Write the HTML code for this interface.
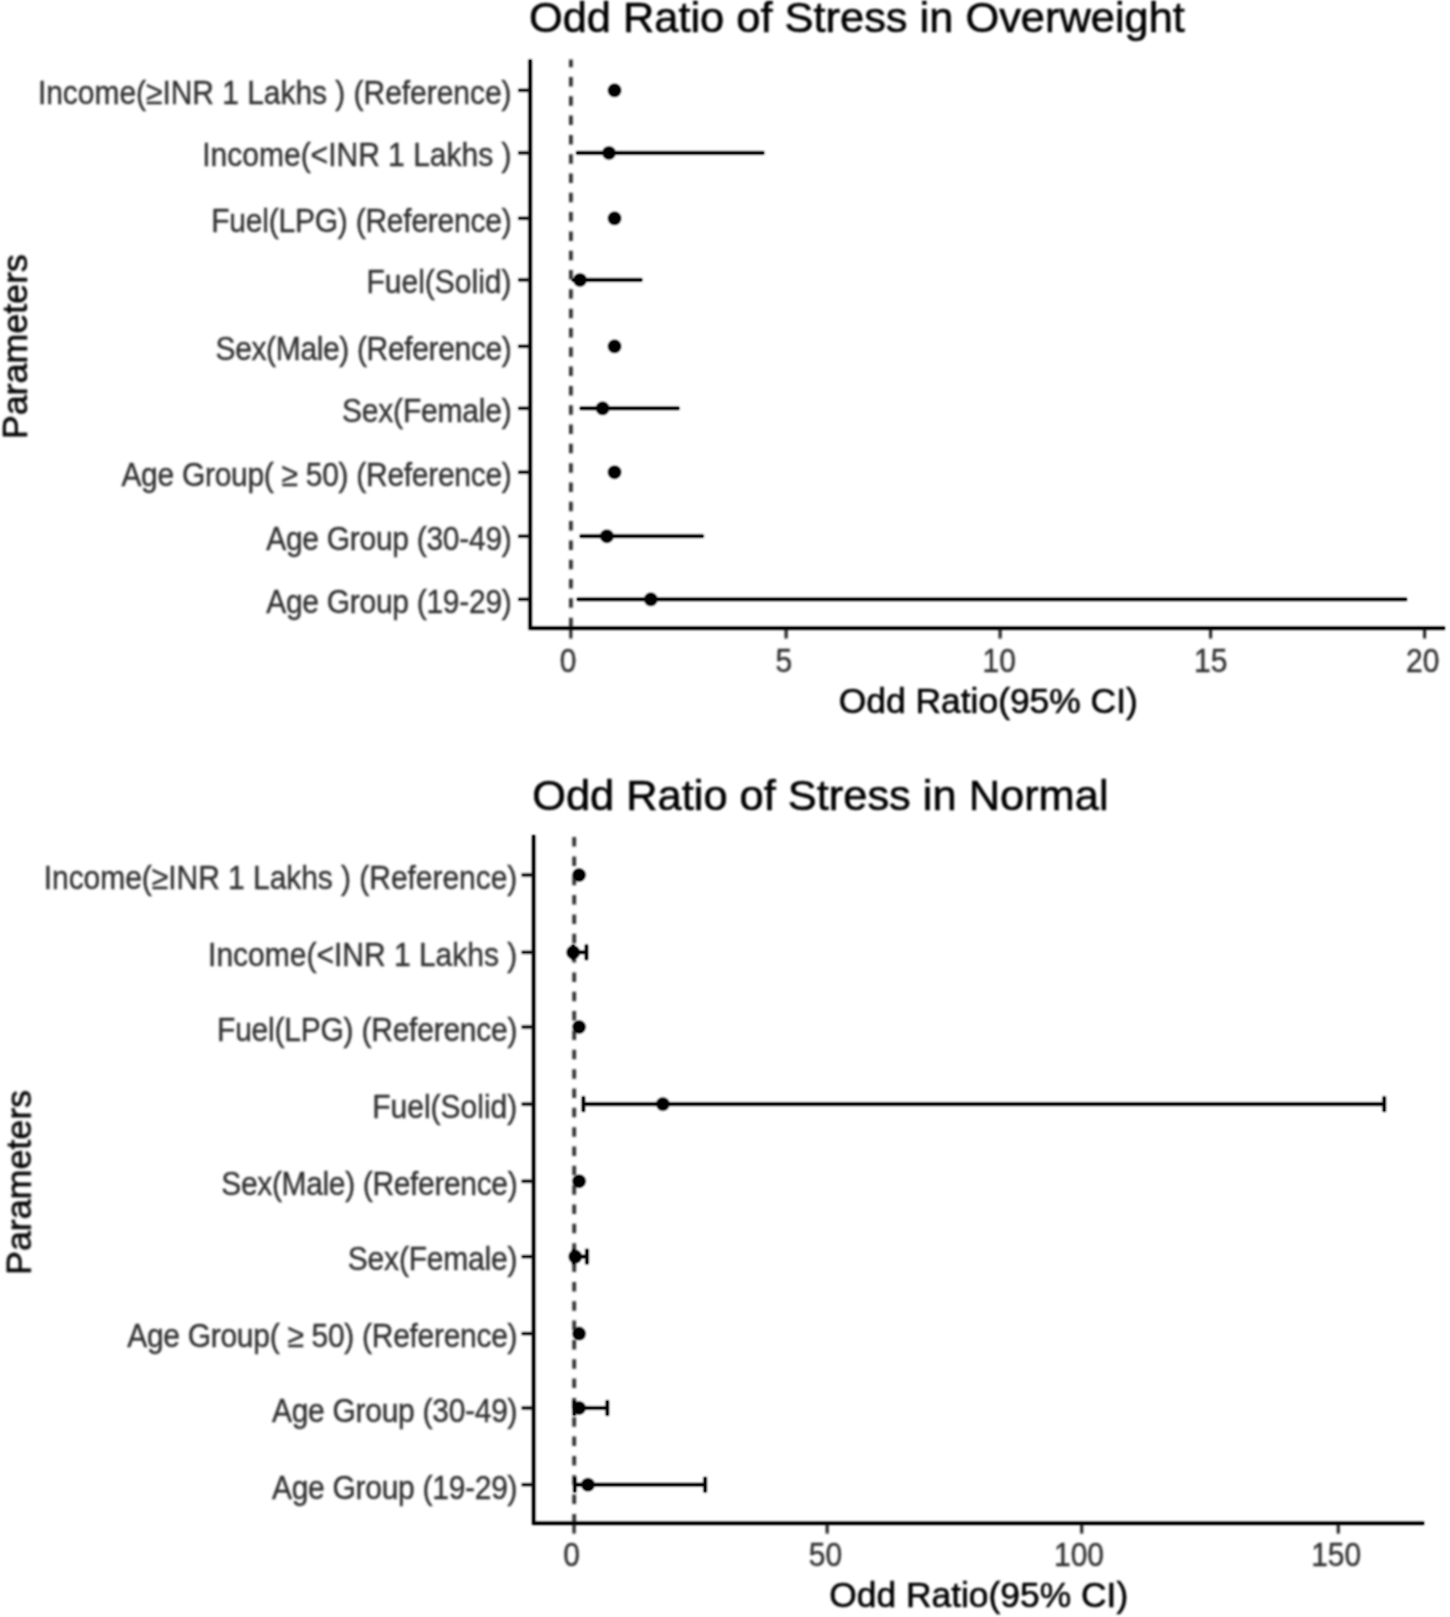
<!DOCTYPE html>
<html lang="en">
<head>
<meta charset="utf-8">
<title>Odd Ratio of Stress – forest plots</title>
<style>
html,body{margin:0;padding:0;background:#fff;}
body{width:1450px;height:1617px;overflow:hidden;font-family:'Liberation Sans', Arial, Helvetica, sans-serif;}
svg{display:block;}
svg text{font-family:'Liberation Sans', Arial, Helvetica, sans-serif;}
.title{font-size:43.4px;fill:#000;stroke:#000;stroke-width:0.6px;}
.atitle{font-size:35.4px;fill:#000;stroke:#000;stroke-width:0.6px;}
.ylab{font-size:30px;fill:#303030;stroke:#303030;stroke-width:0.35px;}
.xlab{font-size:30px;fill:#303030;stroke:#303030;stroke-width:0.35px;}
.axis{fill:none;stroke:#000;stroke-width:3.4;stroke-linecap:butt;stroke-linejoin:miter;}
.tick{stroke:#1a1a1a;stroke-width:3.0;}
.err{stroke:#000;stroke-width:3.2;}
.dash{stroke:#303030;stroke-width:3.8;}
.pt{fill:#000;}
.caxis{fill:none;stroke:#000;stroke-width:1.7;}
.cerr{stroke:#000;stroke-width:1.5;}
.ctick{stroke:#111;stroke-width:1.2;}
.ytitle{font-size:35.8px;}
</style>
</head>
<body>
<svg width="1450" height="1617" viewBox="0 0 1450 1617">
<defs>
<filter id="soft" x="0" y="0" width="1450" height="1617" filterUnits="userSpaceOnUse"><feGaussianBlur stdDeviation="0.8"/></filter>
</defs>
<rect x="0" y="0" width="1450" height="1617" fill="#ffffff"/>
<g filter="url(#soft)">
<g class="chart">
<text class="title" x="528.9" y="32.4">Odd Ratio of Stress in Overweight</text>
<text class="atitle ytitle" text-anchor="middle" transform="translate(27 346.6) rotate(-90)">Parameters</text>
<text class="atitle" text-anchor="middle" x="988.3" y="712.6">Odd Ratio(95% CI)</text>
<line class="dash" stroke-dasharray="9.5 9.81" stroke-dashoffset="1.86" x1="570.9" y1="59.5" x2="570.9" y2="628.2"/>
<text class="ylab" text-anchor="end" letter-spacing="-0.04" transform="translate(511.5 103.7) scale(1 1.11)">Income(≥INR 1 Lakhs ) (Reference)</text>
<line class="tick" x1="518.2" y1="90.3" x2="530.2" y2="90.3"/>
<text class="ylab" text-anchor="end" transform="translate(511.5 166.3) scale(1 1.11)">Income(&lt;INR 1 Lakhs )</text>
<line class="tick" x1="518.2" y1="152.9" x2="530.2" y2="152.9"/>
<text class="ylab" text-anchor="end" letter-spacing="-0.23" transform="translate(511.5 231.7) scale(1 1.11)">Fuel(LPG) (Reference)</text>
<line class="tick" x1="518.2" y1="218.3" x2="530.2" y2="218.3"/>
<text class="ylab" text-anchor="end" transform="translate(511.5 293.3) scale(1 1.11)">Fuel(Solid)</text>
<line class="tick" x1="518.2" y1="279.9" x2="530.2" y2="279.9"/>
<text class="ylab" text-anchor="end" letter-spacing="-0.35" transform="translate(511.5 359.7) scale(1 1.11)">Sex(Male) (Reference)</text>
<line class="tick" x1="518.2" y1="346.3" x2="530.2" y2="346.3"/>
<text class="ylab" text-anchor="end" letter-spacing="-0.2" transform="translate(511.5 421.7) scale(1 1.11)">Sex(Female)</text>
<line class="tick" x1="518.2" y1="408.3" x2="530.2" y2="408.3"/>
<text class="ylab" text-anchor="end" letter-spacing="-0.29" transform="translate(511.5 485.6) scale(1 1.11)">Age Group( ≥ 50) (Reference)</text>
<line class="tick" x1="518.2" y1="472.2" x2="530.2" y2="472.2"/>
<text class="ylab" text-anchor="end" letter-spacing="-0.28" transform="translate(511.5 549.6) scale(1 1.11)">Age Group (30-49)</text>
<line class="tick" x1="518.2" y1="536.2" x2="530.2" y2="536.2"/>
<text class="ylab" text-anchor="end" letter-spacing="-0.28" transform="translate(511.5 612.7) scale(1 1.11)">Age Group (19-29)</text>
<line class="tick" x1="518.2" y1="599.3" x2="530.2" y2="599.3"/>
<line class="tick" x1="570.8" y1="628.2" x2="570.8" y2="638.5"/>
<text class="xlab" text-anchor="middle" transform="translate(568.2 671.7) scale(1 1.11)">0</text>
<line class="tick" x1="786.1" y1="628.2" x2="786.1" y2="638.5"/>
<text class="xlab" text-anchor="middle" transform="translate(783.85 671.7) scale(1 1.11)">5</text>
<line class="tick" x1="1000.1" y1="628.2" x2="1000.1" y2="638.5"/>
<text class="xlab" text-anchor="middle" transform="translate(999.3 671.7) scale(1 1.11)">10</text>
<line class="tick" x1="1210.6" y1="628.2" x2="1210.6" y2="638.5"/>
<text class="xlab" text-anchor="middle" transform="translate(1210.7 671.7) scale(1 1.11)">15</text>
<line class="tick" x1="1424.6" y1="628.2" x2="1424.6" y2="638.5"/>
<text class="xlab" text-anchor="middle" transform="translate(1422.8 671.7) scale(1 1.11)">20</text>
<circle class="pt" cx="614.55" cy="90.3" r="6.5"/>
<line class="err" x1="576.16" y1="152.9" x2="764.25" y2="152.9"/>
<circle class="pt" cx="609.01" cy="152.9" r="6.5"/>
<circle class="pt" cx="614.55" cy="218.3" r="6.5"/>
<line class="err" x1="571.9" y1="279.9" x2="642.27" y2="279.9"/>
<circle class="pt" cx="580" cy="279.9" r="6.5"/>
<circle class="pt" cx="614.55" cy="346.3" r="6.5"/>
<line class="err" x1="579.79" y1="408.3" x2="679.38" y2="408.3"/>
<circle class="pt" cx="602.61" cy="408.3" r="6.5"/>
<circle class="pt" cx="614.55" cy="472.2" r="6.5"/>
<line class="err" x1="579.79" y1="536.2" x2="703.69" y2="536.2"/>
<circle class="pt" cx="606.87" cy="536.2" r="6.5"/>
<line class="err" x1="576.8" y1="599.3" x2="1406.99" y2="599.3"/>
<circle class="pt" cx="650.8" cy="599.3" r="6.5"/>
<polyline class="axis" points="530.2,59.5 530.2,628.2 1445,628.2"/>
</g>
<g class="chart">
<text class="title" x="532.2" y="810.2">Odd Ratio of Stress in Normal</text>
<text class="atitle ytitle" text-anchor="middle" transform="translate(30.8 1182.4) rotate(-90)">Parameters</text>
<text class="atitle" text-anchor="middle" x="978.7" y="1606.7">Odd Ratio(95% CI)</text>
<line class="dash" stroke-dasharray="9.5 9.84" stroke-dashoffset="17.28" x1="574.2" y1="835" x2="574.2" y2="1523.3"/>
<text class="ylab" text-anchor="end" letter-spacing="-0.04" transform="translate(517.3 888.8) scale(1 1.11)">Income(≥INR 1 Lakhs ) (Reference)</text>
<line class="tick" x1="521.6" y1="875" x2="533.6" y2="875"/>
<text class="ylab" text-anchor="end" transform="translate(517.3 966.1) scale(1 1.11)">Income(&lt;INR 1 Lakhs )</text>
<line class="tick" x1="521.6" y1="952.3" x2="533.6" y2="952.3"/>
<text class="ylab" text-anchor="end" letter-spacing="-0.23" transform="translate(517.3 1040.8) scale(1 1.11)">Fuel(LPG) (Reference)</text>
<line class="tick" x1="521.6" y1="1027" x2="533.6" y2="1027"/>
<text class="ylab" text-anchor="end" transform="translate(517.3 1117.9) scale(1 1.11)">Fuel(Solid)</text>
<line class="tick" x1="521.6" y1="1104.1" x2="533.6" y2="1104.1"/>
<text class="ylab" text-anchor="end" letter-spacing="-0.35" transform="translate(517.3 1195) scale(1 1.11)">Sex(Male) (Reference)</text>
<line class="tick" x1="521.6" y1="1181.2" x2="533.6" y2="1181.2"/>
<text class="ylab" text-anchor="end" letter-spacing="-0.2" transform="translate(517.3 1270.4) scale(1 1.11)">Sex(Female)</text>
<line class="tick" x1="521.6" y1="1256.6" x2="533.6" y2="1256.6"/>
<text class="ylab" text-anchor="end" letter-spacing="-0.29" transform="translate(517.3 1347.4) scale(1 1.11)">Age Group( ≥ 50) (Reference)</text>
<line class="tick" x1="521.6" y1="1333.6" x2="533.6" y2="1333.6"/>
<text class="ylab" text-anchor="end" letter-spacing="-0.28" transform="translate(517.3 1421.8) scale(1 1.11)">Age Group (30-49)</text>
<line class="tick" x1="521.6" y1="1408" x2="533.6" y2="1408"/>
<text class="ylab" text-anchor="end" letter-spacing="-0.28" transform="translate(517.3 1498.5) scale(1 1.11)">Age Group (19-29)</text>
<line class="tick" x1="521.6" y1="1484.7" x2="533.6" y2="1484.7"/>
<line class="tick" x1="574.05" y1="1523.3" x2="574.05" y2="1533.6"/>
<text class="xlab" text-anchor="middle" transform="translate(571.7 1565.8) scale(1 1.11)">0</text>
<line class="tick" x1="827.2" y1="1523.3" x2="827.2" y2="1533.6"/>
<text class="xlab" text-anchor="middle" transform="translate(825.5 1565.8) scale(1 1.11)">50</text>
<line class="tick" x1="1081.7" y1="1523.3" x2="1081.7" y2="1533.6"/>
<text class="xlab" text-anchor="middle" transform="translate(1079 1565.8) scale(1 1.11)">100</text>
<line class="tick" x1="1338.3" y1="1523.3" x2="1338.3" y2="1533.6"/>
<text class="xlab" text-anchor="middle" transform="translate(1336.2 1565.8) scale(1 1.11)">150</text>
<circle class="pt" cx="579.06" cy="875" r="6.5"/>
<line class="err" x1="573.2" y1="952.3" x2="586.45" y2="952.3"/>
<line class="err" x1="573.2" y1="944.55" x2="573.2" y2="960.05"/>
<line class="err" x1="586.45" y1="944.55" x2="586.45" y2="960.05"/>
<circle class="pt" cx="573.2" cy="952.3" r="6.5"/>
<circle class="pt" cx="579.06" cy="1027" r="6.5"/>
<line class="err" x1="583.39" y1="1104.1" x2="1384.24" y2="1104.1"/>
<line class="err" x1="583.39" y1="1096.35" x2="583.39" y2="1111.85"/>
<line class="err" x1="1384.24" y1="1096.35" x2="1384.24" y2="1111.85"/>
<circle class="pt" cx="662.86" cy="1104.1" r="6.5"/>
<circle class="pt" cx="579.06" cy="1181.2" r="6.5"/>
<line class="err" x1="573.71" y1="1256.6" x2="586.96" y2="1256.6"/>
<line class="err" x1="573.71" y1="1248.85" x2="573.71" y2="1264.35"/>
<line class="err" x1="586.96" y1="1248.85" x2="586.96" y2="1264.35"/>
<circle class="pt" cx="575.24" cy="1256.6" r="6.5"/>
<circle class="pt" cx="579.06" cy="1333.6" r="6.5"/>
<line class="err" x1="574.22" y1="1408" x2="607.33" y2="1408"/>
<line class="err" x1="574.22" y1="1400.25" x2="574.22" y2="1415.75"/>
<line class="err" x1="607.33" y1="1400.25" x2="607.33" y2="1415.75"/>
<circle class="pt" cx="579.06" cy="1408" r="6.5"/>
<line class="err" x1="574.73" y1="1484.7" x2="705.15" y2="1484.7"/>
<line class="err" x1="574.73" y1="1476.95" x2="574.73" y2="1492.45"/>
<line class="err" x1="705.15" y1="1476.95" x2="705.15" y2="1492.45"/>
<circle class="pt" cx="587.97" cy="1484.7" r="6.5"/>
<polyline class="axis" points="533.6,835 533.6,1523.3 1424.2,1523.3"/>
</g>
</g>
<g class="cores">
<line class="ctick" x1="519" y1="90.3" x2="530.2" y2="90.3"/>
<line class="ctick" x1="519" y1="152.9" x2="530.2" y2="152.9"/>
<line class="ctick" x1="519" y1="218.3" x2="530.2" y2="218.3"/>
<line class="ctick" x1="519" y1="279.9" x2="530.2" y2="279.9"/>
<line class="ctick" x1="519" y1="346.3" x2="530.2" y2="346.3"/>
<line class="ctick" x1="519" y1="408.3" x2="530.2" y2="408.3"/>
<line class="ctick" x1="519" y1="472.2" x2="530.2" y2="472.2"/>
<line class="ctick" x1="519" y1="536.2" x2="530.2" y2="536.2"/>
<line class="ctick" x1="519" y1="599.3" x2="530.2" y2="599.3"/>
<circle class="pt" cx="614.55" cy="90.3" r="5.2"/>
<line class="cerr" x1="576.76" y1="152.9" x2="763.65" y2="152.9"/>
<circle class="pt" cx="609.01" cy="152.9" r="5.2"/>
<circle class="pt" cx="614.55" cy="218.3" r="5.2"/>
<line class="cerr" x1="572.5" y1="279.9" x2="641.67" y2="279.9"/>
<circle class="pt" cx="580" cy="279.9" r="5.2"/>
<circle class="pt" cx="614.55" cy="346.3" r="5.2"/>
<line class="cerr" x1="580.39" y1="408.3" x2="678.78" y2="408.3"/>
<circle class="pt" cx="602.61" cy="408.3" r="5.2"/>
<circle class="pt" cx="614.55" cy="472.2" r="5.2"/>
<line class="cerr" x1="580.39" y1="536.2" x2="703.09" y2="536.2"/>
<circle class="pt" cx="606.87" cy="536.2" r="5.2"/>
<line class="cerr" x1="577.4" y1="599.3" x2="1406.39" y2="599.3"/>
<circle class="pt" cx="650.8" cy="599.3" r="5.2"/>
<polyline class="caxis" points="530.2,60.1 530.2,628.2 1444.4,628.2"/>
<line class="ctick" x1="522.4" y1="875" x2="533.6" y2="875"/>
<line class="ctick" x1="522.4" y1="952.3" x2="533.6" y2="952.3"/>
<line class="ctick" x1="522.4" y1="1027" x2="533.6" y2="1027"/>
<line class="ctick" x1="522.4" y1="1104.1" x2="533.6" y2="1104.1"/>
<line class="ctick" x1="522.4" y1="1181.2" x2="533.6" y2="1181.2"/>
<line class="ctick" x1="522.4" y1="1256.6" x2="533.6" y2="1256.6"/>
<line class="ctick" x1="522.4" y1="1333.6" x2="533.6" y2="1333.6"/>
<line class="ctick" x1="522.4" y1="1408" x2="533.6" y2="1408"/>
<line class="ctick" x1="522.4" y1="1484.7" x2="533.6" y2="1484.7"/>
<circle class="pt" cx="579.06" cy="875" r="5.2"/>
<line class="cerr" x1="573.8" y1="952.3" x2="585.85" y2="952.3"/>
<line class="cerr" x1="573.2" y1="945.35" x2="573.2" y2="959.25"/>
<line class="cerr" x1="586.45" y1="945.35" x2="586.45" y2="959.25"/>
<circle class="pt" cx="573.2" cy="952.3" r="5.2"/>
<circle class="pt" cx="579.06" cy="1027" r="5.2"/>
<line class="cerr" x1="583.99" y1="1104.1" x2="1383.64" y2="1104.1"/>
<line class="cerr" x1="583.39" y1="1097.15" x2="583.39" y2="1111.05"/>
<line class="cerr" x1="1384.24" y1="1097.15" x2="1384.24" y2="1111.05"/>
<circle class="pt" cx="662.86" cy="1104.1" r="5.2"/>
<circle class="pt" cx="579.06" cy="1181.2" r="5.2"/>
<line class="cerr" x1="574.31" y1="1256.6" x2="586.36" y2="1256.6"/>
<line class="cerr" x1="573.71" y1="1249.65" x2="573.71" y2="1263.55"/>
<line class="cerr" x1="586.96" y1="1249.65" x2="586.96" y2="1263.55"/>
<circle class="pt" cx="575.24" cy="1256.6" r="5.2"/>
<circle class="pt" cx="579.06" cy="1333.6" r="5.2"/>
<line class="cerr" x1="574.82" y1="1408" x2="606.73" y2="1408"/>
<line class="cerr" x1="574.22" y1="1401.05" x2="574.22" y2="1414.95"/>
<line class="cerr" x1="607.33" y1="1401.05" x2="607.33" y2="1414.95"/>
<circle class="pt" cx="579.06" cy="1408" r="5.2"/>
<line class="cerr" x1="575.33" y1="1484.7" x2="704.55" y2="1484.7"/>
<line class="cerr" x1="574.73" y1="1477.75" x2="574.73" y2="1491.65"/>
<line class="cerr" x1="705.15" y1="1477.75" x2="705.15" y2="1491.65"/>
<circle class="pt" cx="587.97" cy="1484.7" r="5.2"/>
<polyline class="caxis" points="533.6,835.6 533.6,1523.3 1423.6,1523.3"/>
</g>
</svg>
</body>
</html>
